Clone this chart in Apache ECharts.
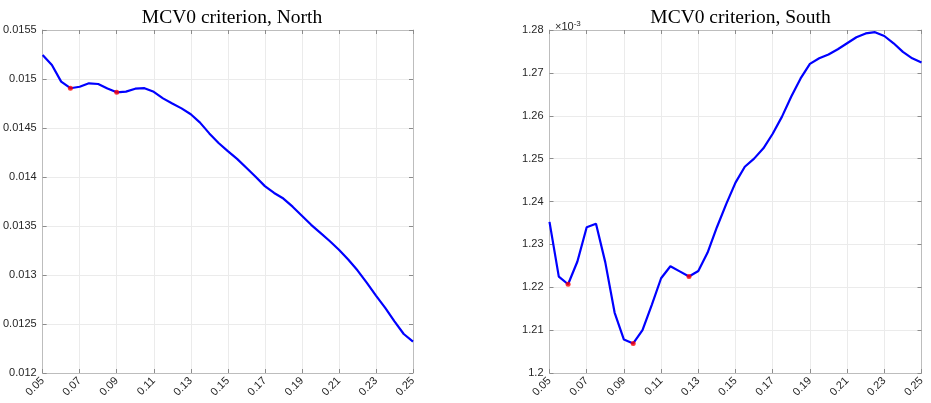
<!DOCTYPE html>
<html>
<head>
<meta charset="utf-8">
<script src="https://cdn.jsdelivr.net/npm/echarts@6/dist/echarts.min.js"></script>
<style>html,body{margin:0;padding:0;background:#fff;}#c{width:931px;height:403px;}</style>
</head>
<body>
<div id="c"></div>
<script>
const categories = ['0.05','0.055','0.06','0.065','0.07','0.075','0.08','0.085','0.09','0.095',
  '0.1','0.105','0.11','0.115','0.12','0.125','0.13','0.135','0.14','0.145',
  '0.15','0.155','0.16','0.165','0.17','0.175','0.18','0.185','0.19','0.195',
  '0.2','0.205','0.21','0.215','0.22','0.225','0.23','0.235','0.24','0.245','0.25'];

const northValues = [0.015245,0.015143,0.014973,0.014906,0.014921,0.014956,0.014949,0.014903,0.014864,0.014871,
  0.014901,0.014906,0.014869,0.014802,0.014750,0.014700,0.014640,0.014555,0.014445,0.014347,
  0.014264,0.014185,0.014095,0.014003,0.013907,0.013837,0.013780,0.013697,0.013605,0.013512,
  0.013430,0.013347,0.013258,0.013158,0.013048,0.012922,0.012790,0.012664,0.012527,0.012398,0.012321];

const southValues = [1.23525,1.22249,1.2207,1.2260,1.2340,1.2348,1.2258,1.2141,1.2078,1.2069,
  1.2100,1.2159,1.2221,1.2249,1.2237,1.2225,1.2238,1.2281,1.2340,1.2394,
  1.2444,1.2481,1.2500,1.2524,1.2558,1.2598,1.2645,1.2687,1.2721,1.2734,
  1.2743,1.2755,1.2769,1.2783,1.2792,1.2795,1.2786,1.2769,1.2749,1.2734,1.2724];

const northMinima = ['0.065','0.09'];
const southMinima = ['0.06','0.095','0.125'];

const northTitle = 'MCV0 criterion, North';
const southTitle = 'MCV0 criterion, South';

const labelFont = { fontFamily: 'Liberation Sans, Arial, sans-serif', fontSize: 11, color: '#262626' };
const boxColor = '#bdbdbd';
const gridColor = '#ebebeb';
const titleStyle = { fontFamily: 'Liberation Serif, DejaVu Serif, serif', fontWeight: 'normal', fontSize: 19.5, color: '#000' };

function xAxisDef(gi, pos, labels) {
  return {
    type: 'category', gridIndex: gi, position: pos, data: categories, boundaryGap: false,
    axisLine: { show: true, lineStyle: { color: boxColor, width: 1 } },
    axisTick: { show: true, inside: true, length: 4, interval: 3, lineStyle: { color: '#8c8c8c' } },
    axisLabel: labels ? Object.assign({ show: true, interval: 3, rotate: 45, margin: 6 }, labelFont) : { show: false },
    splitLine: { show: labels, interval: 3, lineStyle: { color: gridColor, width: 1 } }
  };
}
function yAxisDef(gi, pos, min, max, step, labels) {
  return {
    type: 'value', gridIndex: gi, position: pos, min: min, max: max, interval: step,
    axisLine: { show: true, lineStyle: { color: boxColor, width: 1 } },
    axisTick: { show: true, inside: true, length: 4, lineStyle: { color: '#8c8c8c' } },
    axisLabel: labels ? Object.assign({ show: true, margin: 6 }, labelFont) : { show: false },
    splitLine: { show: labels, lineStyle: { color: gridColor, width: 1 } }
  };
}
function pick(vals, keys) { return keys.map(k => [k, vals[categories.indexOf(k)]]); }

const chart = echarts.init(document.getElementById('c'), null, { renderer: 'canvas' });
chart.setOption({
  animation: false,
  backgroundColor: '#ffffff',
  title: [
    { text: northTitle, left: 227, top: 3, textAlign: 'center', textStyle: titleStyle },
    { text: southTitle, left: 735.5, top: 3, textAlign: 'center', textStyle: titleStyle },
    { text: '{a|×10}{b|-3}', left: 550, top: 15,
      textStyle: { fontWeight: 'normal',
        rich: { a: { fontFamily: 'Liberation Sans, Arial, sans-serif', fontSize: 11, fontWeight: 'normal', color: '#262626' },
                b: { fontFamily: 'Liberation Sans, Arial, sans-serif', fontSize: 8, fontWeight: 'normal', color: '#262626', verticalAlign: 'top', padding: [0,0,6,0] } } } }
  ],
  grid: [
    { left: 41, right: 518, top: 30, bottom: 30, containLabel: false },
    { left: 549.5, right: 9.5, top: 30, bottom: 30, containLabel: false }
  ],
  xAxis: [xAxisDef(0, 'bottom', true), xAxisDef(1, 'bottom', true), xAxisDef(0, 'top', false), xAxisDef(1, 'top', false)],
  yAxis: [yAxisDef(0, 'left', 0.012, 0.0155, 0.0005, true), yAxisDef(1, 'left', 1.2, 1.28, 0.01, true),
          yAxisDef(0, 'right', 0.012, 0.0155, 0.0005, false), yAxisDef(1, 'right', 1.2, 1.28, 0.01, false)],
  series: [
    { type: 'line', xAxisIndex: 0, yAxisIndex: 0, data: northValues, showSymbol: false, symbol: 'none',
      lineStyle: { color: '#0000ff', width: 2.2 }, z: 3 },
    { type: 'line', xAxisIndex: 1, yAxisIndex: 1, data: southValues, showSymbol: false, symbol: 'none',
      lineStyle: { color: '#0000ff', width: 2.2 }, z: 3 },
    { type: 'scatter', xAxisIndex: 0, yAxisIndex: 0, data: pick(northValues, northMinima), symbolSize: 5,
      itemStyle: { color: '#ff0000' }, z: 4 },
    { type: 'scatter', xAxisIndex: 1, yAxisIndex: 1, data: pick(southValues, southMinima), symbolSize: 5,
      itemStyle: { color: '#ff0000' }, z: 4 }
  ]
});
</script>
</body>
</html>
